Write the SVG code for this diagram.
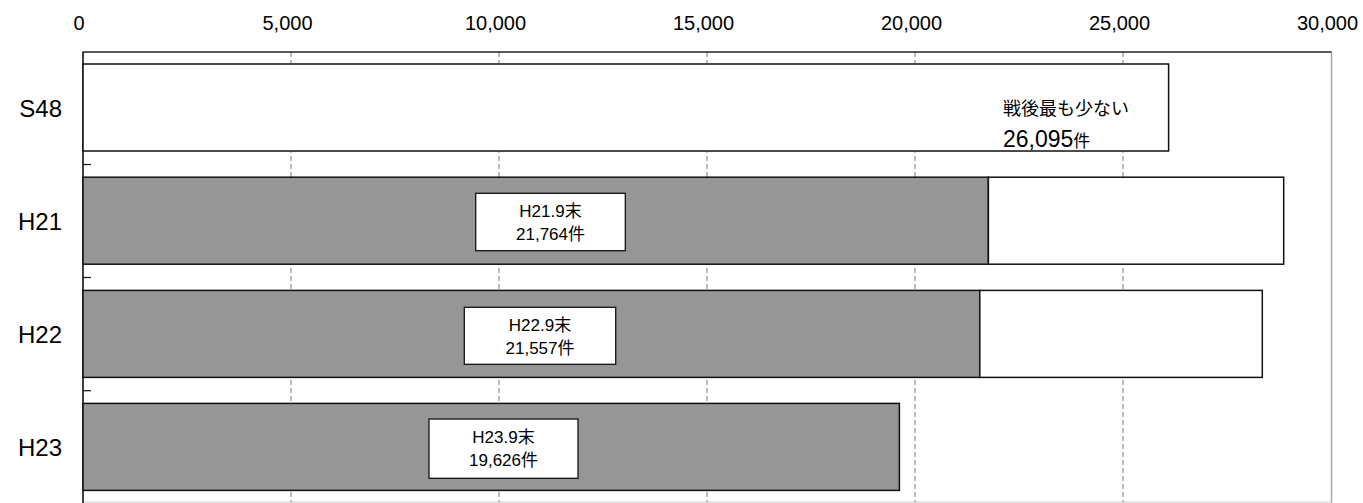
<svg xmlns="http://www.w3.org/2000/svg" width="1363" height="503" viewBox="0 0 1363 503">
<style>
text{font-family:"Liberation Sans",Arial,"Noto Sans CJK JP",sans-serif;fill:#000}
.ax{font-size:20px;text-anchor:middle}
.cat{font-size:24px;text-anchor:end}
.lb{font-size:17px;text-anchor:middle}
.grid{stroke:#999;stroke-width:1.3;stroke-dasharray:5,3;fill:none}
.gray{fill:#969696;stroke:#111;stroke-width:1.5}
.white{fill:#fff;stroke:#111;stroke-width:1.5}
.box{fill:#fff;stroke:#111;stroke-width:1.3}
.tick{stroke:#111;stroke-width:1.2}
</style>
<rect width="1363" height="503" fill="#fff"/>
<g id="axis">
<text class="ax" x="79" y="30">0</text>
<text class="ax" x="287.5" y="30">5,000</text>
<text class="ax" x="495.5" y="30">10,000</text>
<text class="ax" x="703.5" y="30">15,000</text>
<text class="ax" x="911.5" y="30">20,000</text>
<text class="ax" x="1119.5" y="30">25,000</text>
<text class="ax" x="1327.5" y="30">30,000</text>
<line x1="291" y1="52" x2="291" y2="503" class="grid"/>
<line x1="499" y1="52" x2="499" y2="503" class="grid"/>
<line x1="707" y1="52" x2="707" y2="503" class="grid"/>
<line x1="915" y1="52" x2="915" y2="503" class="grid"/>
<line x1="1123" y1="52" x2="1123" y2="503" class="grid"/>
<line x1="1331.5" y1="52" x2="1331.5" y2="503" stroke="#aaa" stroke-width="1.5"/>
<line x1="83" y1="502" x2="1331.5" y2="502" stroke="#ccc" stroke-width="1"/>
<line x1="82.5" y1="52" x2="1331.5" y2="52" stroke="#222" stroke-width="1.5"/>
<line x1="83" y1="52" x2="83" y2="503" stroke="#111" stroke-width="1.6"/>
<line x1="83" y1="164.5" x2="91" y2="164.5" class="tick"/>
<line x1="83" y1="277.5" x2="91" y2="277.5" class="tick"/>
<line x1="83" y1="390.7" x2="91" y2="390.7" class="tick"/>
</g>
<g id="S48">
<rect class="white" x="83" y="64" width="1085.6" height="87"/>
<text class="cat" x="62" y="117">S48</text>
<text x="1003" y="115" font-size="18">戦後最も少ない</text>
<text x="1003" y="146.5" font-size="23">26,095<tspan font-size="17">件</tspan></text>
</g>
<g id="H21">
<rect class="gray" x="83" y="177.2" width="905.4" height="87"/>
<rect class="white" x="988.4" y="177.2" width="295.3" height="87"/>
<text class="cat" x="62" y="230">H21</text>
<rect class="box" x="475.7" y="193.3" width="149.6" height="57.4"/>
<text class="lb" x="550.5" y="217">H21.9末</text>
<text class="lb" x="550.5" y="240">21,764件</text>
</g>
<g id="H22">
<rect class="gray" x="83" y="290.4" width="896.8" height="87"/>
<rect class="white" x="979.8" y="290.4" width="282.5" height="87"/>
<text class="cat" x="62" y="343">H22</text>
<rect class="box" x="464.3" y="307.3" width="151.4" height="57"/>
<text class="lb" x="540" y="331">H22.9末</text>
<text class="lb" x="540" y="354">21,557件</text>
</g>
<g id="H23">
<rect class="gray" x="83" y="403.4" width="816.4" height="87"/>
<text class="cat" x="62" y="456">H23</text>
<rect class="box" x="429" y="419" width="149" height="59.3"/>
<text class="lb" x="503.5" y="443">H23.9末</text>
<text class="lb" x="503.5" y="466">19,626件</text>
</g>
<g id="connectors"></g>
</svg>
